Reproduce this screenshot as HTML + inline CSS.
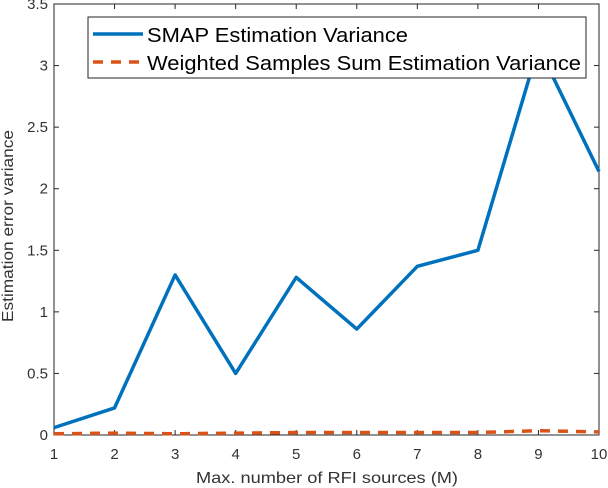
<!DOCTYPE html>
<html><head><meta charset="utf-8"><style>
body{margin:0;background:#fff;}
svg{display:block;font-family:"Liberation Sans",Arial,sans-serif;}
</style></head><body>
<svg id="chart" width="608" height="488"></svg>
<script>
const categories=[1,2,3,4,5,6,7,8,9,10];
const smapValues=[0.06,0.22,1.30,0.50,1.28,0.86,1.37,1.50,3.15,2.14];
const weightedValues=[0.01,0.015,0.01,0.015,0.02,0.02,0.02,0.02,0.035,0.025];
const yTicks=[0,0.5,1,1.5,2,2.5,3,3.5];
const yTickLabels=["0","0.5","1","1.5","2","2.5","3","3.5"];
const xTicks=[1,2,3,4,5,6,7,8,9,10];

const L=54,R=599,T=4,B=435;
const sx=v=>L+(v-1)/(10-1)*(R-L);
const sy=v=>B-v/3.5*(B-T);
const svg=document.getElementById('chart');
const NS='http://www.w3.org/2000/svg';
function mk(tag,attrs,parent){const e=document.createElementNS(NS,tag);for(const k in attrs)e.setAttribute(k,attrs[k]);(parent||svg).appendChild(e);return e;}

const axes=mk('g',{});


const box=mk('rect',{x:L,y:T,width:R-L,height:B-T,fill:'none',stroke:'#262626','stroke-width':1},axes);


yTicks.forEach((v,i)=>{
  const y=sy(v);
  mk('line',{x1:L,x2:L+5,y1:y,y2:y,stroke:'#262626'},axes);
  mk('line',{x1:R,x2:R-5,y1:y,y2:y,stroke:'#262626'},axes);
  const t=mk('text',{x:L-6,y:y+5,'text-anchor':'end','font-size':15,fill:'#333'},axes);
  t.textContent=yTickLabels[i];
  
  
});
xTicks.forEach(v=>{
  const x=sx(v);
  mk('line',{x1:x,x2:x,y1:B,y2:B-5,stroke:'#262626'},axes);
  mk('line',{x1:x,x2:x,y1:T,y2:T+5,stroke:'#262626'},axes);
  const t=mk('text',{x:x,y:B+24,'text-anchor':'middle','font-size':15,fill:'#333'},axes);
  t.textContent=String(v);
  
  
});
const xt=mk('text',{x:196,y:483,'font-size':16,fill:'#333',textLength:262,lengthAdjust:'spacingAndGlyphs'});
xt.textContent='Max. number of RFI sources (M)';


const yt=mk('text',{x:0,y:0,'font-size':16,fill:'#333',textLength:192,lengthAdjust:'spacingAndGlyphs',transform:'translate(13 322) rotate(-90)'});
yt.textContent='Estimation error variance';



const p1=mk('polyline',{points:categories.map((c,i)=>sx(c)+','+sy(smapValues[i])).join(' '),fill:'none',stroke:'#0072bd','stroke-width':3.5,'stroke-linejoin':'round'});


const p2=mk('polyline',{points:categories.map((c,i)=>sx(c)+','+sy(weightedValues[i])).join(' '),fill:'none',stroke:'#d95319','stroke-width':3.5,'stroke-dasharray':'10,8'});



const lg=mk('g',{});


mk('rect',{x:88,y:17,width:498,height:61,fill:'#fff',stroke:'#262626','stroke-width':1},lg);
mk('line',{x1:93,x2:143,y1:34,y2:34,stroke:'#0072bd','stroke-width':3.5},lg);
mk('line',{x1:93,x2:143,y1:62,y2:62,stroke:'#d95319','stroke-width':3.5,'stroke-dasharray':'10,8'},lg);
const l1=mk('text',{x:147,y:42,'font-size':20,fill:'#000',textLength:261,lengthAdjust:'spacingAndGlyphs'},lg);
l1.textContent='SMAP Estimation Variance';


const l2=mk('text',{x:147,y:70,'font-size':20,fill:'#000',textLength:434,lengthAdjust:'spacingAndGlyphs'},lg);
l2.textContent='Weighted Samples Sum Estimation Variance';


</script>
</body></html>
